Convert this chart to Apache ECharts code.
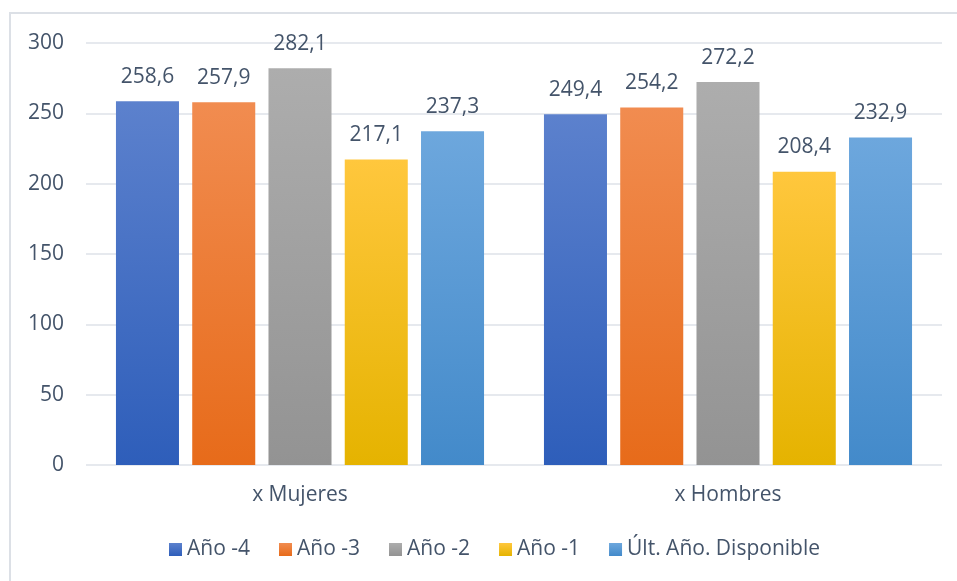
<!DOCTYPE html>
<html>
<head>
<meta charset="utf-8" />
<title>Gráfico</title>
<script type="text/javascript" src="https://cdn.jsdelivr.net/npm/echarts@6/dist/echarts.min.js"></script>
<style>
  html, body { margin: 0; padding: 0; background: #fff; }
  #main { width: 957px; height: 581px; }
</style>
</head>
<body>
<div id="main"></div>
<script type="text/javascript">
  // categorías y valores
  var categories = ['x Mujeres', 'x Hombres'];
  var seriesNames = ['Año -4', 'Año -3', 'Año -2', 'Año -1', 'Últ. Año. Disponible'];
  var anio4 = [258.6, 249.4];
  var anio3 = [257.9, 254.2];
  var anio2 = [282.1, 272.2];
  var anio1 = [217.1, 208.4];
  var ultAnio = [237.3, 232.9];
  var yTicks = [0, 50, 100, 150, 200, 250, 300];

  // colores (arriba, abajo) para el degradado
  var colors = [
    ['#5C81CD', '#2E5EBA'],
    ['#F18C50', '#E76B1A'],
    ['#ADADAD', '#939393'],
    ['#FFC73D', '#E5B300'],
    ['#6DA7DD', '#438ACA']
  ];
  var allData = [anio4, anio3, anio2, anio1, ultAnio];

  var textColor = '#44546A';
  var fontFam = '"Open Sans", Lato, sans-serif';

  function grad(c) {
    return new echarts.graphic.LinearGradient(0, 0, 0, 1, [
      { offset: 0, color: c[0] },
      { offset: 1, color: c[1] }
    ]);
  }

  var series = [];
  for (var i = 0; i < seriesNames.length; i++) {
    series.push({
      name: seriesNames[i],
      type: 'bar',
      data: allData[i],
      barGap: '21%',
      barCategoryGap: '14%',
      itemStyle: { color: grad(colors[i]) },
      label: {
        show: true,
        position: 'top',
        distance: 14,
        color: textColor,
        fontSize: 21,
        fontFamily: fontFam,
        formatter: function (p) { return String(p.value).replace('.', ','); }
      }
    });
  }

  var myChart = echarts.init(document.getElementById('main'));
  myChart.setOption({
    animation: false,
    textStyle: { fontFamily: fontFam },
    graphic: [{
      type: 'rect',
      shape: { x: 10, y: 13, width: 960, height: 600 },
      style: { fill: 'none', stroke: '#DCE0E6', lineWidth: 2 },
      silent: true
    }],
    grid: { left: 86, right: 15, top: 43, bottom: 116 },
    legend: {
      bottom: 16,
      left: 164,
      itemWidth: 13,
      itemHeight: 13,
      itemGap: 29,
      icon: 'rect',
      textStyle: { color: textColor, fontSize: 21, fontFamily: fontFam },
      data: seriesNames.map(function (n, i) {
        return { name: n, itemStyle: { color: grad(colors[i]) } };
      })
    },
    xAxis: {
      type: 'category',
      data: categories,
      axisLine: { show: false },
      axisTick: { show: false },
      axisLabel: { color: textColor, fontSize: 21, margin: 20, fontFamily: fontFam }
    },
    yAxis: {
      type: 'value',
      min: yTicks[0],
      max: yTicks[yTicks.length - 1],
      interval: 50,
      axisLine: { show: false },
      axisTick: { show: false },
      axisLabel: { color: textColor, fontSize: 21, margin: 22, fontFamily: fontFam },
      splitLine: { lineStyle: { color: '#DEE2E8', width: 1.5 } }
    },
    series: series
  });
</script>
</body>
</html>
